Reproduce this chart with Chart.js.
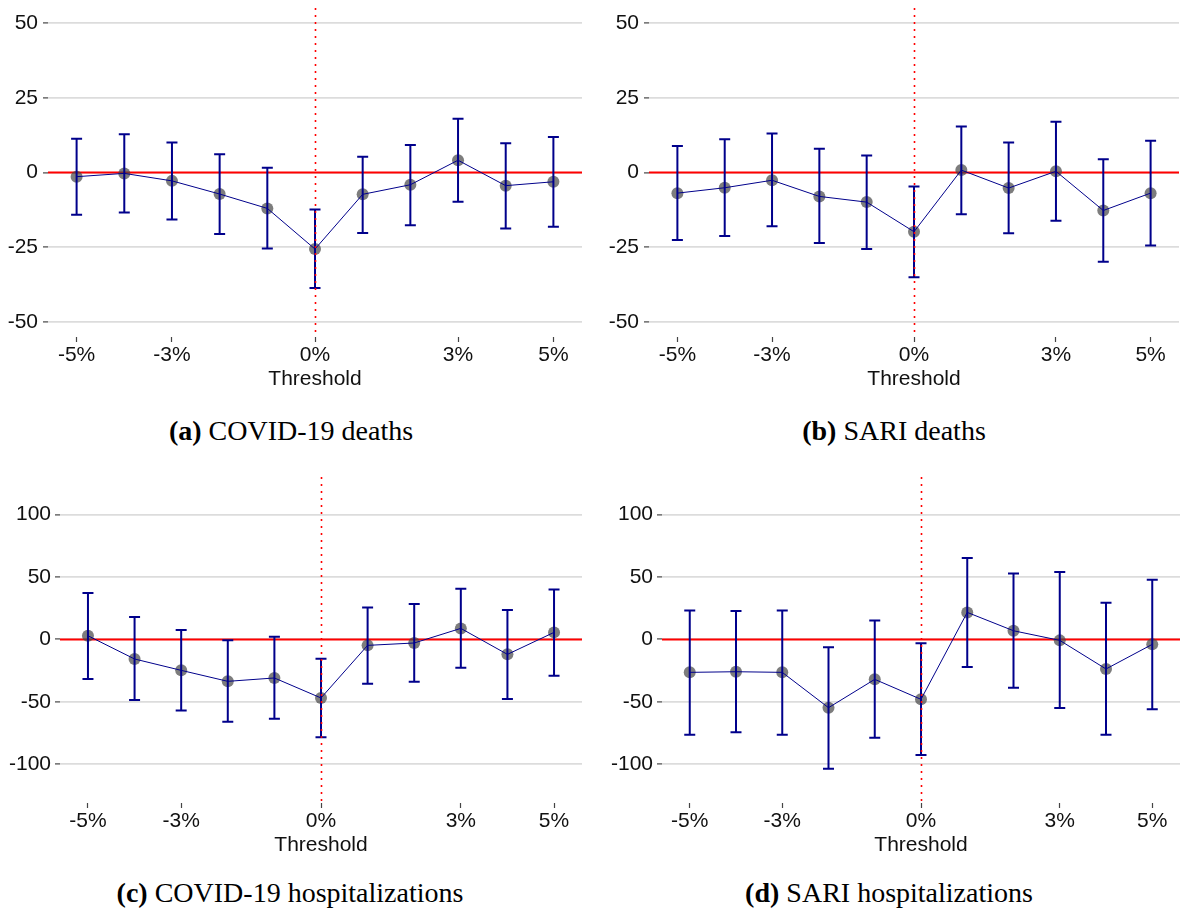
<!DOCTYPE html>
<html>
<head>
<meta charset="utf-8">
<script src="https://cdn.jsdelivr.net/npm/chart.js@4/dist/chart.umd.min.js"></script>
<style>
  body { margin: 0; background: #fff; width: 1186px; height: 914px; position: relative; overflow: hidden; }
  canvas { position: absolute; }
  .caption { position: absolute; font-family: "Liberation Serif", serif; font-size: 28px; color: #000;
             white-space: nowrap; transform: translate(-50%, -50%); }
</style>
</head>
<body>
<canvas id="panelA" width="590" height="395" style="left:0;top:0"></canvas>
<canvas id="panelB" width="591" height="395" style="left:595px;top:0"></canvas>
<canvas id="panelC" width="590" height="390" style="left:0;top:470px"></canvas>
<canvas id="panelD" width="591" height="390" style="left:595px;top:470px"></canvas>

<div class="caption" style="left:291px;top:431px"><b>(a)</b> COVID-19 deaths</div>
<div class="caption" style="left:894px;top:431px"><b>(b)</b> SARI deaths</div>
<div class="caption" style="left:290px;top:893px"><b>(c)</b> COVID-19 hospitalizations</div>
<div class="caption" style="left:889px;top:893px"><b>(d)</b> SARI hospitalizations</div>

<script>
// thresholds (%) and tick labels
const thresholds = [-5, -4, -3, -2, -1, 0, 1, 2, 3, 4, 5]
const xTickValues = [-5, -3, 0, 3, 5]
const deathTicks = [-50, -25, 0, 25, 50]
const hospTicks = [-100, -50, 0, 50, 100]

// (a) COVID-19 deaths
const covidDeaths     = [-1.4, -0.3, -2.8, -7.2, -12.0, -25.6, -7.3, -4.1, 4.1, -4.4, -3.1]
const covidDeathsLow  = [-14.1, -13.4, -15.7, -20.6, -25.4, -38.6, -20.2, -17.6, -9.8, -18.7, -18.1]
const covidDeathsHigh = [11.3, 12.8, 10.0, 6.1, 1.6, -12.4, 5.3, 9.2, 18.0, 9.8, 11.9]

// (b) SARI deaths
const sariDeaths     = [-6.9, -5.1, -2.6, -8.0, -9.9, -19.8, 0.8, -5.2, 0.4, -12.7, -6.9]
const sariDeathsLow  = [-22.6, -21.2, -18.0, -23.6, -25.6, -35.0, -14.0, -20.3, -16.1, -29.8, -24.4]
const sariDeathsHigh = [8.9, 11.1, 13.0, 7.9, 5.7, -4.7, 15.4, 10.0, 17.0, 4.4, 10.6]

// (c) COVID-19 hospitalizations
const covidHosp     = [2.9, -15.7, -24.8, -33.6, -30.9, -46.9, -4.8, -2.9, 8.8, -12.0, 5.6]
const covidHospLow  = [-31.7, -48.5, -57.0, -65.9, -63.5, -78.4, -35.5, -33.9, -22.7, -47.7, -29.1]
const covidHospHigh = [37.1, 17.9, 7.5, -0.8, 2.1, -15.5, 25.6, 28.3, 40.5, 23.5, 40.0]

// (d) SARI hospitalizations
const sariHosp     = [-26.4, -25.9, -26.4, -54.7, -32.0, -48.0, 21.6, 6.9, -0.8, -23.7, -4.0]
const sariHospLow  = [-76.3, -74.4, -76.3, -103.5, -78.7, -92.5, -22.1, -38.7, -54.9, -76.3, -56.0]
const sariHospHigh = [23.2, 22.7, 23.2, -6.4, 15.2, -3.2, 65.1, 52.8, 53.9, 29.3, 47.7]

const axisFont = { family: 'Liberation Sans', size: 21 }
const navy = '#00008b'

// error bars drawn right after the point layer
const errorBars = {
  id: 'errorBars',
  afterDatasetDraw(chart, args) {
    const ds = chart.data.datasets[args.index]
    if (!ds.lower) return
    const { ctx, scales: { x, y } } = chart
    ctx.save()
    ctx.strokeStyle = navy
    ctx.lineWidth = 2
    ds.data.forEach((p, i) => {
      const px = x.getPixelForValue(p.x)
      const lo = y.getPixelForValue(ds.lower[i])
      const hi = y.getPixelForValue(ds.upper[i])
      ctx.beginPath()
      ctx.moveTo(px, lo); ctx.lineTo(px, hi)
      ctx.moveTo(px - 5.5, lo); ctx.lineTo(px + 5.5, lo)
      ctx.moveTo(px - 5.5, hi); ctx.lineTo(px + 5.5, hi)
      ctx.stroke()
    })
    ctx.restore()
  }
}

// red zero line (under) and dotted threshold line (over)
const refLines = {
  id: 'refLines',
  beforeDatasetsDraw(chart) {
    const { ctx, chartArea: a, scales: { y } } = chart
    const y0 = y.getPixelForValue(0)
    ctx.save()
    ctx.strokeStyle = '#ff0000'
    ctx.lineWidth = 2
    ctx.beginPath(); ctx.moveTo(a.left, y0); ctx.lineTo(a.right, y0); ctx.stroke()
    ctx.restore()
  },
  afterDatasetsDraw(chart) {
    const { ctx, chartArea: a, scales: { x } } = chart
    const x0 = Math.round(x.getPixelForValue(0)) + 0.5
    ctx.save()
    ctx.strokeStyle = '#ff0000'
    ctx.lineWidth = 1.6
    ctx.setLineDash([2, 5])
    ctx.beginPath(); ctx.moveTo(x0, a.top); ctx.lineTo(x0, a.bottom); ctx.stroke()
    ctx.restore()
  }
}

function makePanel(id, est, low, high, yTicks, yMin, yMax, geo) {
  const pts = thresholds.map((t, i) => ({ x: t, y: est[i] }))
  return new Chart(document.getElementById(id), {
    type: 'scatter',
    data: {
      datasets: [
        { data: pts, showLine: true, borderColor: navy, borderWidth: 1, pointRadius: 0, order: 1 },
        { data: pts, showLine: false, pointRadius: 6, pointBorderWidth: 0,
          pointBackgroundColor: 'rgba(70,70,70,0.7)', lower: low, upper: high, order: 2 }
      ]
    },
    options: {
      responsive: false,
      animation: false,
      devicePixelRatio: 1,
      layout: { padding: { top: geo.top, right: geo.right, left: 0, bottom: 0 } },
      plugins: { legend: { display: false }, tooltip: { enabled: false } },
      scales: {
        x: {
          type: 'linear', min: -5.6, max: 5.6,
          afterBuildTicks: s => { s.ticks = xTickValues.map(v => ({ value: v })) },
          afterFit: s => { s.height = geo.xh; s.paddingLeft = 0; s.paddingRight = 0 },
          border: { display: false },
          grid: { drawOnChartArea: false, drawTicks: true, tickLength: 5, tickColor: '#444', tickWidth: 1.2 },
          ticks: { callback: v => v + '%', font: axisFont, color: '#111', padding: 1, maxRotation: 0, autoSkip: false },
          title: { display: true, text: 'Threshold', font: axisFont, color: '#111', padding: { top: 0, bottom: geo.tb } }
        },
        y: {
          min: yMin, max: yMax,
          afterBuildTicks: s => { s.ticks = yTicks.map(v => ({ value: v })) },
          afterFit: s => { s.width = geo.yw; s.paddingTop = 0; s.paddingBottom = 0 },
          border: { display: false },
          grid: { color: '#dcdcdc', lineWidth: 1.8, drawTicks: true, tickLength: 5, tickColor: '#444', tickWidth: 1.2 },
          ticks: { font: axisFont, color: '#111', padding: geo.lp }
        }
      }
    },
    plugins: [errorBars, refLines]
  })
}

makePanel('panelA', covidDeaths, covidDeathsLow, covidDeathsHigh, deathTicks, -55, 55,
  { top: 8, right: 8, yw: 48, xh: 58, tb: 3.5, lp: 5 })
makePanel('panelB', sariDeaths, sariDeathsLow, sariDeathsHigh, deathTicks, -55, 55,
  { top: 8, right: 7, yw: 54, xh: 58, tb: 3.5, lp: 5 })
makePanel('panelC', covidHosp, covidHospLow, covidHospHigh, hospTicks, -131, 130,
  { top: 7, right: 8, yw: 60, xh: 57, tb: 2, lp: 4 })
makePanel('panelD', sariHosp, sariHospLow, sariHospHigh, hospTicks, -131, 130,
  { top: 7, right: 6, yw: 67, xh: 57, tb: 2, lp: 4 })
</script>
</body>
</html>
